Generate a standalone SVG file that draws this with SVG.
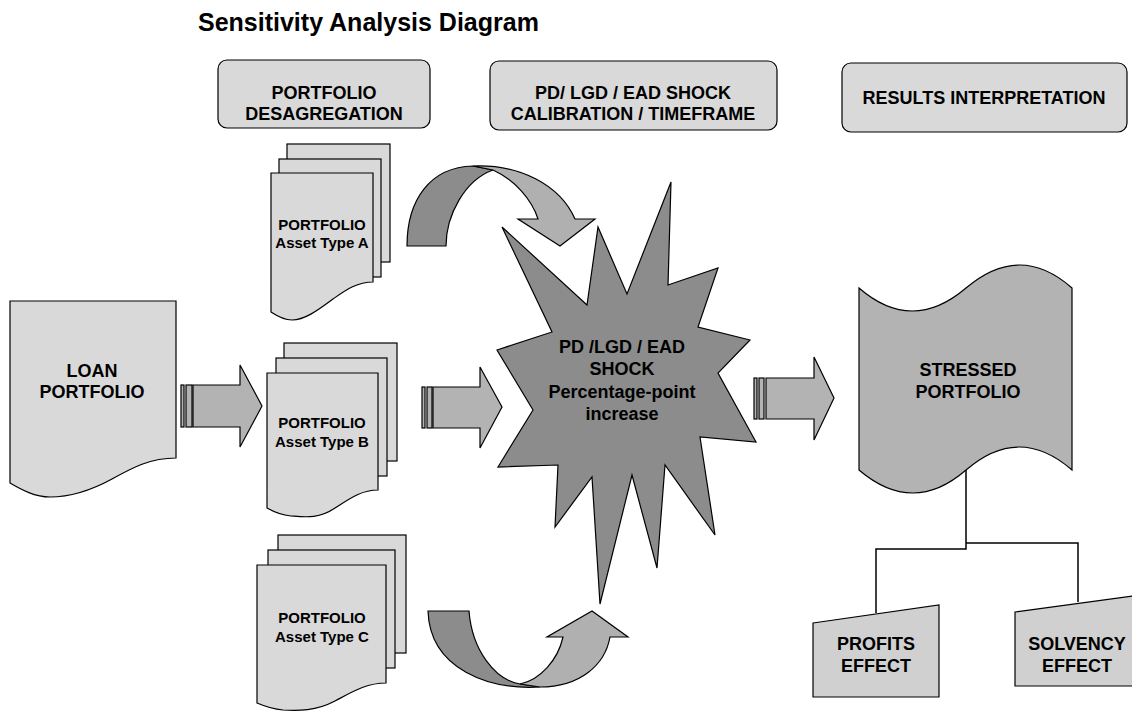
<svg xmlns="http://www.w3.org/2000/svg" width="1132" height="711" viewBox="0 0 1132 711">
<defs>
<style>
text{font-family:"Liberation Sans",Arial,sans-serif;font-weight:bold;fill:#000;text-anchor:middle}
.t18{font-size:18px}
.t15{font-size:15px}
.hdr{fill:#d9d9d9;stroke:#000;stroke-width:1.2}
.doc{fill:#d9d9d9;stroke:#000;stroke-width:1.2}
.blk{fill:#b3b3b3;stroke:#000;stroke-width:1.2}
.dark{fill:#8c8c8c;stroke:#000;stroke-width:1.2}
.light{fill:#b0b0b0;stroke:#000;stroke-width:1.2}
.line{fill:none;stroke:#000;stroke-width:1.5}
</style>
</defs>
<rect width="1132" height="711" fill="#fff"/>
<text x="198" y="31" style="font-size:25px;text-anchor:start">Sensitivity Analysis Diagram</text>

<g id="hdr-desagregation">
<rect class="hdr" x="218" y="60" width="212" height="68" rx="9"/>
<text class="t18" x="324" y="99">PORTFOLIO</text>
<text class="t18" x="324" y="120">DESAGREGATION</text>
</g>
<g id="hdr-calibration">
<rect class="hdr" x="490" y="61" width="287" height="69" rx="9"/>
<text class="t18" x="633" y="99">PD/ LGD / EAD SHOCK</text>
<text class="t18" x="633" y="120">CALIBRATION / TIMEFRAME</text>
</g>
<g id="hdr-results">
<rect class="hdr" x="842" y="63" width="285" height="69" rx="9"/>
<text class="t18" x="984" y="104">RESULTS INTERPRETATION</text>
</g>

<g id="loan-portfolio">
<path class="doc" d="M10,301 H176 V458 C150,458 132,468 112,479 C90,491 68,497 50,497 C35,497 22,490 10,483 Z"/>
<text class="t18" x="92" y="377">LOAN</text>
<text class="t18" x="92" y="398">PORTFOLIO</text>
</g>

<g id="portfolio-a">
<rect class="doc" x="287" y="144" width="103" height="118"/>
<rect class="doc" x="279" y="159" width="102" height="118"/>
<path class="doc" d="M271,173 H373 V282 C357,282 346,290 333,299 C318,310 305,320 292,320 C284,320 277,316 271,312 Z"/>
<text class="t15" x="322" y="230">PORTFOLIO</text>
<text class="t15" x="322" y="248">Asset Type A</text>
</g>

<g id="portfolio-b">
<rect class="doc" x="284" y="343" width="113" height="118"/>
<rect class="doc" x="276" y="358" width="111" height="118"/>
<path class="doc" d="M267,373 H378 V490 C361,490 349,499 335,508 C319,519 305,517 291,516 C282,515 274,512 267,508 Z"/>
<text class="t15" x="322" y="428">PORTFOLIO</text>
<text class="t15" x="322" y="447">Asset Type B</text>
</g>

<g id="portfolio-c">
<rect class="doc" x="278" y="535" width="128" height="118"/>
<rect class="doc" x="268" y="550" width="127" height="118"/>
<path class="doc" d="M257,565 H386 V683 C366,683 352,692 335,701 C316,711 298,711 283,710 C272,709 264,706 257,703 Z"/>
<text class="t15" x="322" y="623">PORTFOLIO</text>
<text class="t15" x="322" y="642">Asset Type C</text>
</g>

<g id="shock">
<polygon class="dark" points="502,227 587,305 598,227 627,294 671,182 668,285 718,268 698,327 750,340 718,373 756,442 700,437 715,535 665,465 657,568 632,475 600,604 592,477 555,527 558,465 498,467 533,410 497,350 552,332"/>
<text class="t18" x="622" y="353">PD /LGD / EAD</text>
<text class="t18" x="622" y="375">SHOCK</text>
<text class="t18" x="622" y="398">Percentage-point</text>
<text class="t18" x="622" y="420">increase</text>
</g>

<g id="stressed-portfolio">
<path d="M859,288 Q912,334 966,288 T1072,288 V470 Q1019,424 966,470 T859,470 Z" fill="#b3b3b3" stroke="#000" stroke-width="1.2"/>
<text class="t18" x="968" y="376">STRESSED</text>
<text class="t18" x="968" y="398">PORTFOLIO</text>
</g>

<g id="profits-effect">
<polygon points="813,623 939,605 939,697 813,697" fill="#d0d0d0" stroke="#000" stroke-width="1.2"/>
<text class="t18" x="876" y="650">PROFITS</text>
<text class="t18" x="876" y="672">EFFECT</text>
</g>

<g id="solvency-effect">
<polygon points="1015,612 1141,595 1141,686 1015,686" fill="#d0d0d0" stroke="#000" stroke-width="1.2"/>
<text class="t18" x="1077" y="650">SOLVENCY</text>
<text class="t18" x="1077" y="672">EFFECT</text>
</g>

<g id="connectors">
<g id="curve-a">
<path class="dark" d="M407,246 C407,200 430,167 473,166 L493,170 C465,180 446,215 446,246 Z"/>
<path class="light" d="M473,166 C520,164 560,185 575,219 L595,219 L560,246 L518,219 L538,219 C532,200 515,180 493,170 Z"/>
</g>
<g id="curve-c">
<path class="dark" d="M428,611 L469,611 C472,650 495,680 520,684 L540,687 C490,690 430,670 428,611 Z"/>
<path class="light" d="M540,687 C580,687 605,665 610,637 L628,637 L592,611 L547,637 L563,637 C558,660 540,680 520,684 Z"/>
</g>
<g id="arrow-loan-b">
<rect class="blk" x="181" y="385" width="3" height="42"/>
<rect class="blk" x="186" y="385" width="6" height="42"/>
<path class="blk" d="M193,385 H240 V365 L262,406 L240,447 V427 H193 Z"/>
</g>
<g id="arrow-b-shock">
<rect class="blk" x="422" y="387" width="3" height="41"/>
<rect class="blk" x="427" y="387" width="5" height="41"/>
<path class="blk" d="M433,387 H480 V367 L502,407 L480,448 V428 H433 Z"/>
</g>
<g id="arrow-shock-stressed">
<rect class="blk" x="754" y="378" width="3" height="41"/>
<rect class="blk" x="759" y="378" width="5" height="41"/>
<path class="blk" d="M766,378 H814 V357 L834,398 L814,440 V419 H766 Z"/>
</g>
<path class="line" d="M966,470 V549 H876 V613"/>
<path class="line" d="M966,543 H1078 V602"/>
</g>
</svg>
